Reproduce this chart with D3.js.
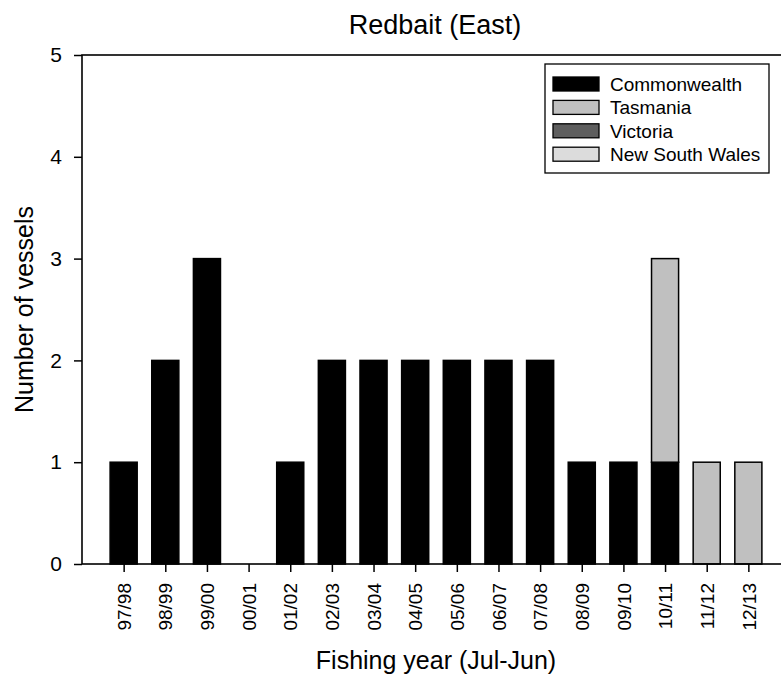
<!DOCTYPE html>
<html>
<head>
<meta charset="utf-8">
<script src="https://cdn.jsdelivr.net/npm/d3@7"></script>
<style>
  html, body { margin: 0; padding: 0; background: #fff; }
  svg { display: block; font-family: Arial, "Liberation Sans", Helvetica, sans-serif; }
</style>
</head>
<body>
<svg id="chart" width="781" height="675"></svg>
<script>
const years = ["97/98","98/99","99/00","00/01","01/02","02/03","03/04","04/05","05/06","06/07","07/08","08/09","09/10","10/11","11/12","12/13"];
const commonwealth = [1,2,3,0,1,2,2,2,2,2,2,1,1,1,0,0];
const tasmania     = [0,0,0,0,0,0,0,0,0,0,0,0,0,2,1,1];
const victoria     = [0,0,0,0,0,0,0,0,0,0,0,0,0,0,0,0];
const nsw          = [0,0,0,0,0,0,0,0,0,0,0,0,0,0,0,0];
const seriesNames = ["Commonwealth","Tasmania","Victoria","New South Wales"];
const seriesColors = ["#000000","#c0c0c0","#5e5e5e","#dcdcdc"];
const yTicks = [0,1,2,3,4,5];
const title = "Redbait (East)";
const xTitle = "Fishing year (Jul-Jun)";
const yTitle = "Number of vessels";

const svg = d3.select("#chart");
const mLeft = 82, mRight = 790, mTop = 55, mBottom = 564;

const x = d3.scaleLinear().domain([-1, years.length]).range([mLeft, mRight]);
const y = d3.scaleLinear().domain([0, 5]).range([mBottom, mTop]);
const barW = (x(1) - x(0)) * 0.65;

const rows = years.map((yr, i) => ({
  year: yr, i,
  Commonwealth: commonwealth[i], Tasmania: tasmania[i], Victoria: victoria[i], "New South Wales": nsw[i]
}));
const stacked = d3.stack().keys(seriesNames)(rows);

// bars
stacked.forEach((layer, k) => {
  svg.append("g").selectAll("rect")
    .data(layer.filter(d => d[1] - d[0] > 0))
    .join("rect")
    .attr("x", d => x(d.data.i) - barW / 2)
    .attr("width", barW)
    .attr("y", d => y(d[1]))
    .attr("height", d => y(d[0]) - y(d[1]))
    .attr("fill", seriesColors[k])
    .attr("stroke", "#000")
    .attr("stroke-width", 1.5);
});

// frame
svg.append("rect")
  .attr("x", mLeft).attr("y", mTop)
  .attr("width", mRight - mLeft).attr("height", mBottom - mTop)
  .attr("fill", "none").attr("stroke", "#000").attr("stroke-width", 1.6);

// y axis
const yAxis = svg.append("g").attr("transform", `translate(${mLeft},0)`)
  .call(d3.axisLeft(y).tickValues(yTicks).tickFormat(d3.format("d")).tickSize(8).tickPadding(12));
yAxis.select(".domain").remove();
yAxis.selectAll("line").attr("stroke", "#000").attr("stroke-width", 1.5);
yAxis.selectAll("text").attr("font-size", 21).attr("fill", "#000")
  .attr("font-family", "Arial, 'Liberation Sans', sans-serif");

// x axis
const xAxis = svg.append("g").attr("transform", `translate(0,${mBottom})`)
  .call(d3.axisBottom(x).tickValues(d3.range(years.length)).tickFormat(i => years[i]).tickSize(8).tickPadding(0));
xAxis.select(".domain").remove();
xAxis.selectAll("line").attr("stroke", "#000").attr("stroke-width", 1.5);
xAxis.selectAll("text")
  .attr("font-size", 19).attr("fill", "#000")
  .attr("font-family", "Arial, 'Liberation Sans', sans-serif")
  .attr("text-anchor", "end")
  .attr("x", 0).attr("y", 0)
  .attr("dy", "0.35em")
  .attr("transform", "translate(0,19) rotate(-90)");

// title
svg.append("text").attr("x", 435).attr("y", 34).attr("text-anchor", "middle")
  .attr("font-size", 27).attr("fill", "#000").text(title);

// axis titles
svg.append("text").attr("x", 436).attr("y", 669).attr("text-anchor", "middle")
  .attr("font-size", 25).attr("fill", "#000").text(xTitle);
svg.append("text").attr("transform", `translate(33,${(mTop + mBottom) / 2}) rotate(-90)`)
  .attr("text-anchor", "middle").attr("font-size", 25).attr("fill", "#000").text(yTitle);

// legend
const lg = svg.append("g");
lg.append("rect").attr("x", 545).attr("y", 64).attr("width", 224).attr("height", 109)
  .attr("fill", "#fff").attr("stroke", "#000").attr("stroke-width", 1.3);
seriesNames.forEach((name, k) => {
  const cy = 84 + k * 23.4;
  lg.append("rect").attr("x", 553).attr("y", cy - 7).attr("width", 46).attr("height", 14)
    .attr("fill", seriesColors[k]).attr("stroke", "#000").attr("stroke-width", 1.3);
  lg.append("text").attr("x", 610).attr("y", cy).attr("dy", "0.36em")
    .attr("font-size", 19).attr("fill", "#000").text(name);
});
</script>
</body>
</html>
